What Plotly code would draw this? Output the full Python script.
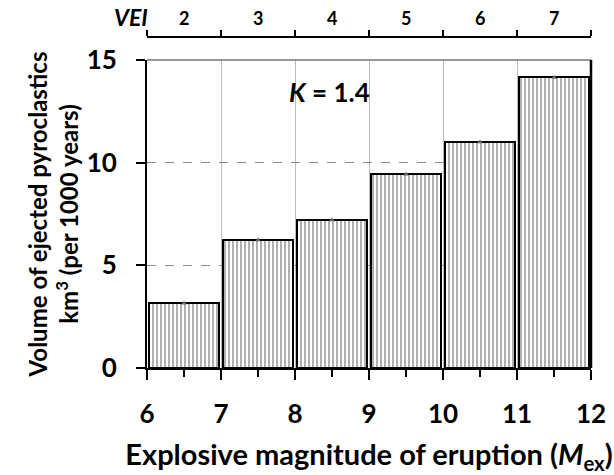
import plotly.graph_objects as go

# Data
mex_bins = [6.5, 7.5, 8.5, 9.5, 10.5, 11.5]
volumes = [3.15, 6.23, 7.21, 9.43, 11.0, 14.15]
x_ticks = [6, 7, 8, 9, 10, 11, 12]
y_ticks = [0, 5, 10, 15]
vei_labels = ["2", "3", "4", "5", "6", "7"]
k_text = "<i>K</i> = 1.4"

FONT = "Lato"

fig = go.Figure()

fig.add_trace(go.Bar(
    x=mex_bins, y=volumes, width=0.94,
    marker=dict(color="white",
                line=dict(color="black", width=2),
                pattern=dict(shape="|", fgcolor="#626262", bgcolor="white",
                             size=4, solidity=0.5)),
    showlegend=False, hoverinfo="skip",
))

fig.add_trace(go.Scatter(
    x=mex_bins, y=volumes, mode="markers",
    marker=dict(symbol="triangle-up", size=5, color="#666"),
    showlegend=False, hoverinfo="skip",
))

# top VEI axis (dummy trace on xaxis2)
fig.add_trace(go.Scatter(x=[6, 12], y=[0, 0], xaxis="x2", mode="lines",
                         line=dict(width=0), showlegend=False, hoverinfo="skip"))

ytop = 0.837
fig.update_layout(
    width=614, height=475,
    margin=dict(l=147, r=23, t=0, b=107, autoexpand=False),
    plot_bgcolor="white", paper_bgcolor="white",
    bargap=0,
    xaxis=dict(
        range=[6, 12], tickvals=x_ticks, automargin=False,
        ticks="outside", ticklen=10, tickwidth=2, tickcolor="black",
        showline=True, linecolor="black", linewidth=2,
        showgrid=True, gridcolor="#bdbdbd", gridwidth=1,
        minor=dict(dtick=0.5, tick0=6, ticks="outside", ticklen=7,
                   tickwidth=2, tickcolor="black", showgrid=False),
        tickfont=dict(family=FONT, size=26, color="black", weight="bold"),
        ticklabelstandoff=12,
        title=dict(text="Explosive magnitude of eruption (<i>M</i><sub>ex</sub>)",
                   font=dict(family=FONT, size=29, color="black", weight="bold"),
                   standoff=16),
        zeroline=False,
    ),
    xaxis2=dict(
        range=[6, 12], overlaying="x", anchor="free", position=0.8995,
        side="top", tickvals=x_ticks, showticklabels=False, automargin=False,
        ticks="outside", ticklen=6, tickwidth=2, tickcolor="black",
        showline=True, linecolor="black", linewidth=2,
        showgrid=False, zeroline=False,
    ),
    yaxis=dict(
        domain=[0, ytop], range=[0, 15], tickvals=y_ticks, automargin=False,
        ticks="outside", ticklen=9, tickwidth=2, tickcolor="black",
        showline=True, linecolor="black", linewidth=2,
        showgrid=True, gridcolor="#8c8c8c", gridwidth=1, griddash="dash",
        tickfont=dict(family=FONT, size=26, color="black", weight="bold"),
        ticklabelstandoff=14,
        title=dict(text="Volume of ejected pyroclastics<br>km<sup>3</sup> (per 1000 years)",
                   font=dict(family=FONT, size=24, color="black", weight="bold"),
                   standoff=1),
        zeroline=False,
    ),
)

# frame: top gray, right black
fig.add_shape(type="line", xref="x domain", yref="y domain", x0=0, x1=1, y0=1, y1=1,
              line=dict(color="#777", width=1.5))
fig.add_shape(type="line", xref="x domain", yref="y domain", x0=1, x1=1, y0=0, y1=1,
              line=dict(color="black", width=2.5))

# VEI labels
for i, lab in enumerate(vei_labels):
    fig.add_annotation(x=(x_ticks[i] + x_ticks[i + 1]) / 2, xref="x", y=0.951, yref="paper",
                       yanchor="middle", text=lab, showarrow=False,
                       font=dict(family=FONT, size=18, color="black", weight="bold"))
fig.add_annotation(x=0, xref="paper", y=0.953, yref="paper", xanchor="right",
                   yanchor="middle", xshift=3, text="<i>VEI</i>", showarrow=False,
                   font=dict(family=FONT, size=23, color="black", weight="bold"))

fig.add_annotation(x=8.47, y=13.45, xref="x", yref="y", text=k_text, showarrow=False,
                   font=dict(family=FONT, size=26, color="black", weight="bold"))

fig.write_html("out.html")
